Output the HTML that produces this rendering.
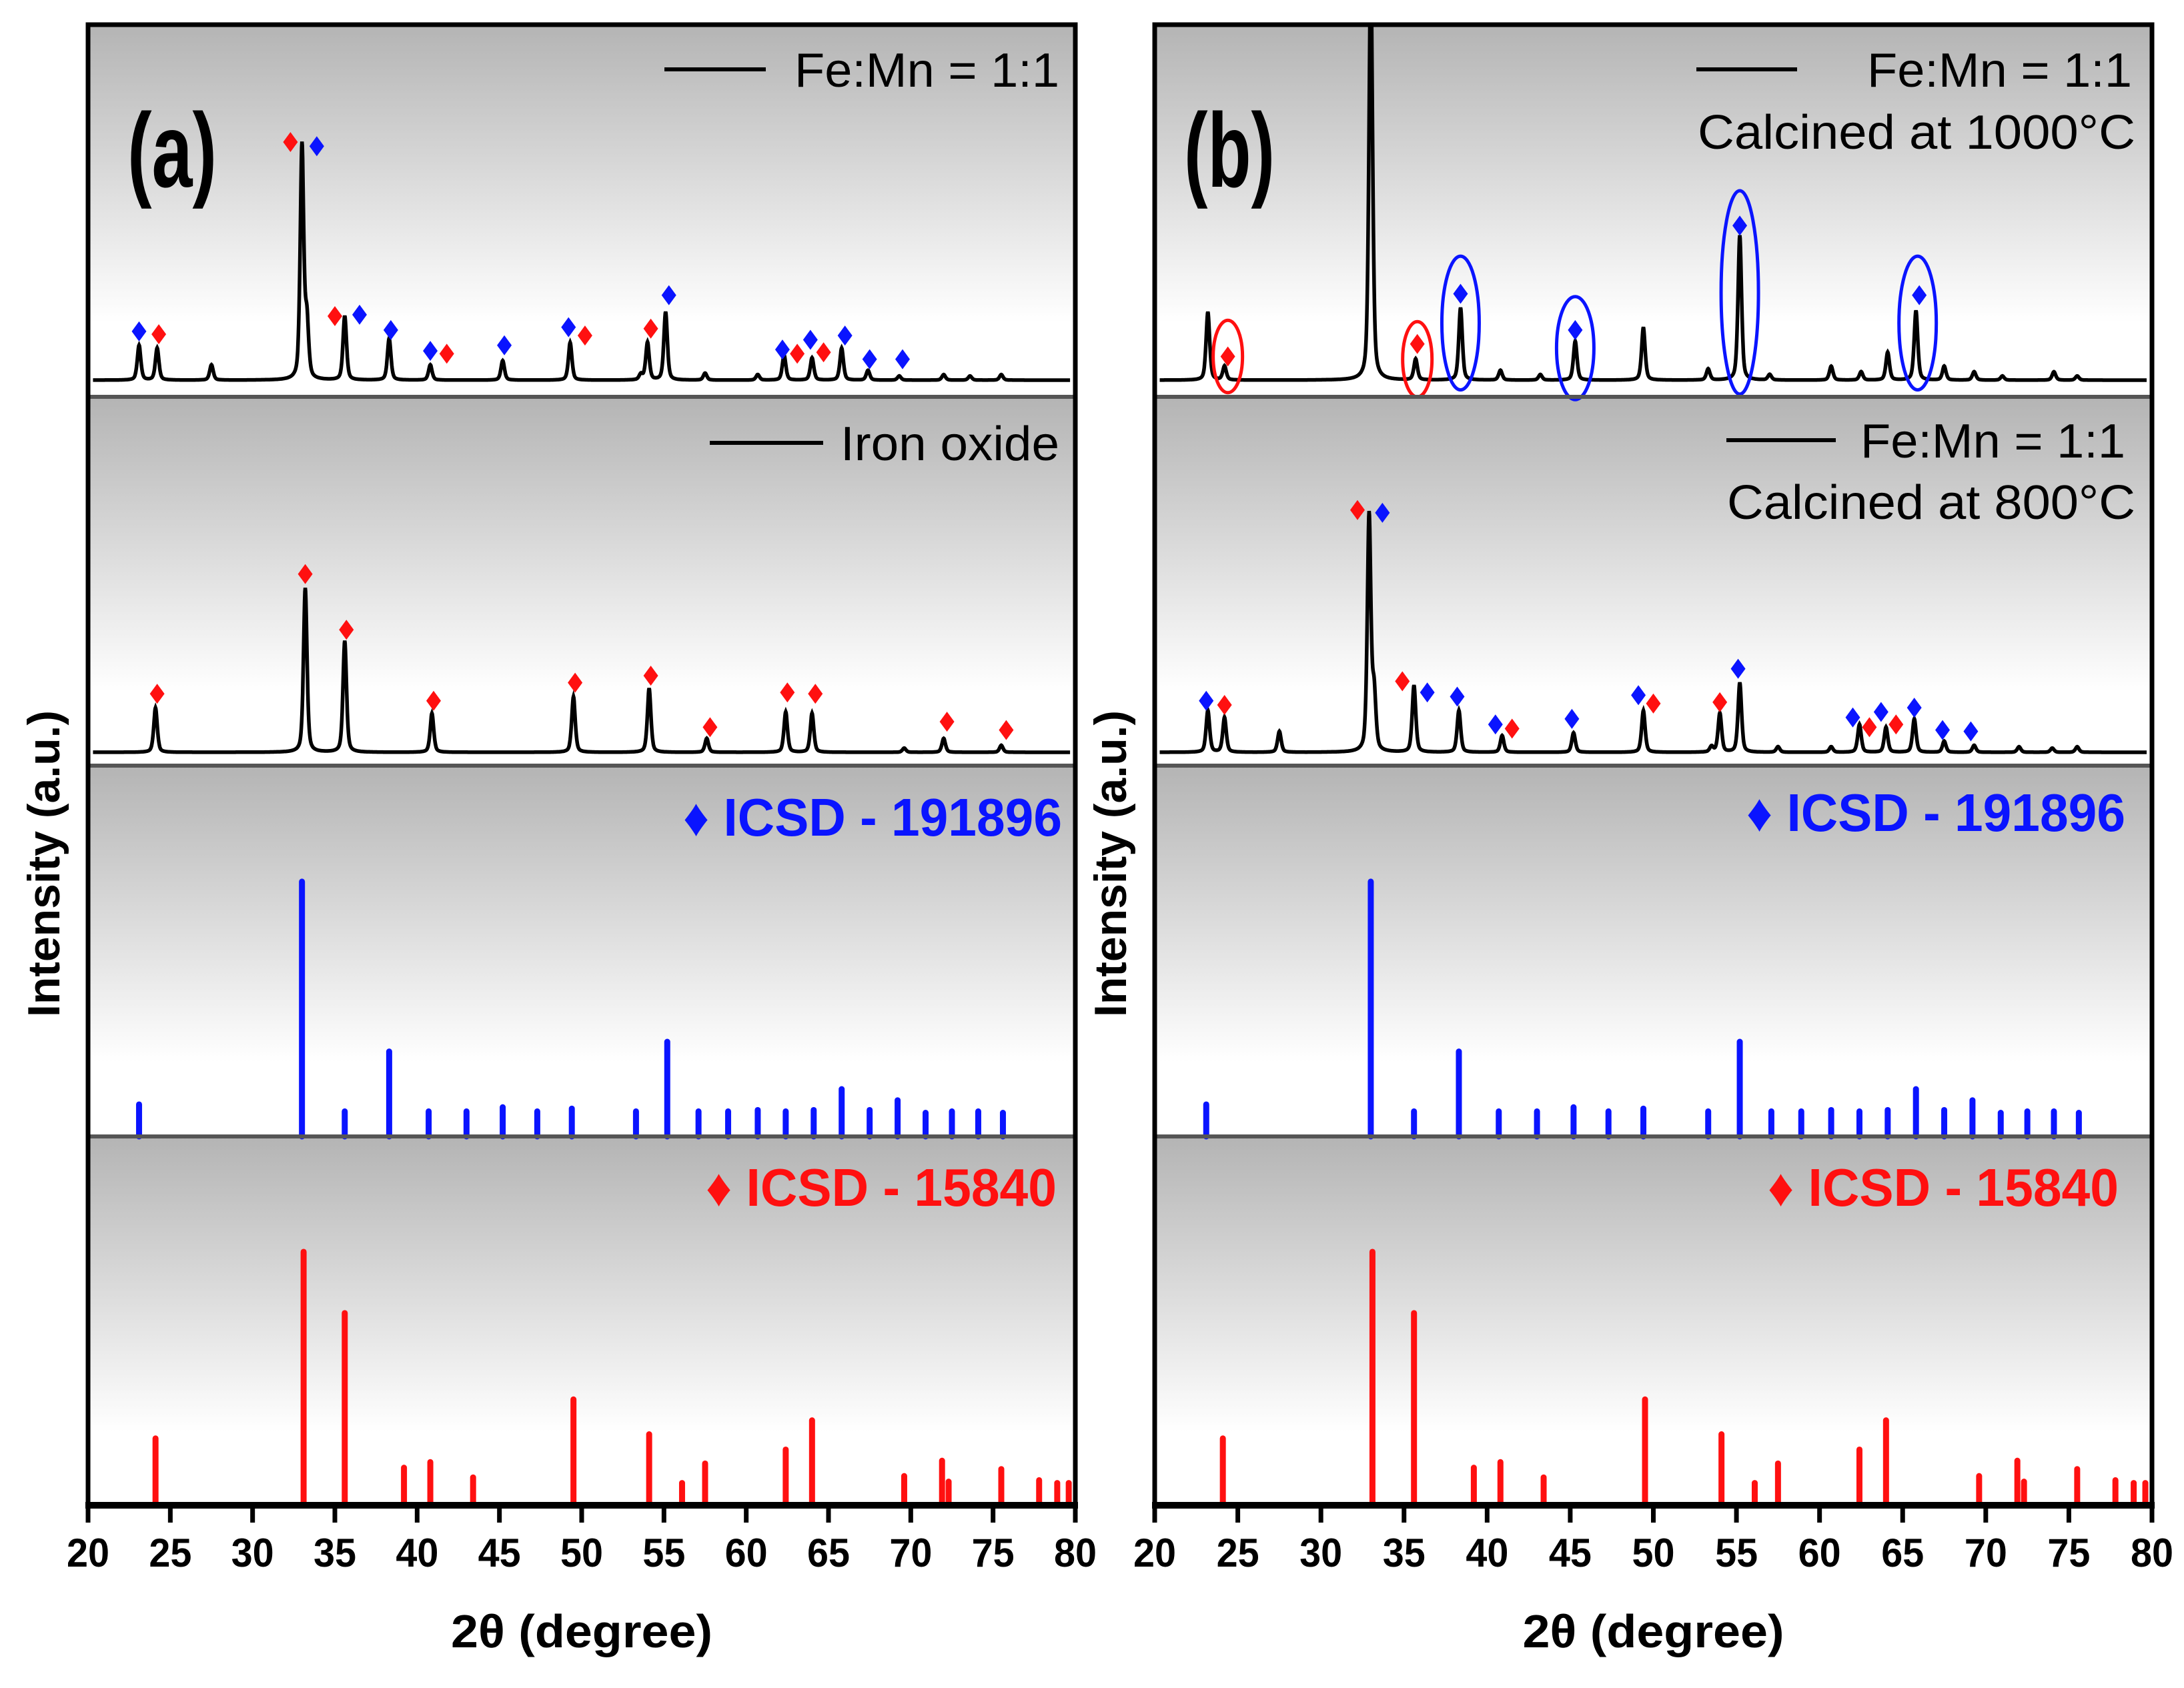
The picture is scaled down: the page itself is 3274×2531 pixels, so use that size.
<!DOCTYPE html>
<html><head><meta charset="utf-8"><style>
html,body{margin:0;padding:0;background:#fff;}
svg{display:block;}
text{font-family:"Liberation Sans Narrow","Liberation Sans",sans-serif;}
</style></head><body>
<svg id="chart" width="3274" height="2531" viewBox="0 0 3274 2531" xmlns="http://www.w3.org/2000/svg">
<defs>
<linearGradient id="bg" x1="0" y1="0" x2="0" y2="1">
<stop offset="0" stop-color="#b4b4b4"/><stop offset="0.8" stop-color="#ffffff"/><stop offset="1" stop-color="#ffffff"/>
</linearGradient>
</defs>
</svg>
<script>
// ---- data (2theta in degrees, intensity in a.u.) ----
const xTicks = [20,25,30,35,40,45,50,55,60,65,70,75,80];
// Panel (a) Fe:Mn = 1:1
const aMixPos = [23.1,24.2,27.5,33.0,33.3,35.6,38.3,40.8,45.2,49.3,53.6,54.0,55.1,57.5,60.7,62.3,64.0,65.8,67.4,69.3,72.0,73.6,75.5];
const aMixInt = [25,23,11,168,40,46,30,11,14,27,4,27,49,5,4,18,16,23,7,3,4,3,4];
const aMixMarkPos = [23.1,24.3,32.3,33.9,35.0,36.5,38.4,40.8,41.8,45.3,49.2,50.2,54.2,55.3,62.2,63.1,63.9,64.7,66.0,67.5,69.5];
const aMixMarkInt = [35,33,171,168,46,47,36,21,19,25,38,32,37,61,22,19,29,20,32,15,15];
const aMixMarkCol = ['b','r','r','b','r','b','b','b','r','b','b','r','r','b','b','r','b','r','b','b','b'];
// Panel (a) Iron oxide
const aFePos = [24.1,33.2,35.6,40.9,49.5,54.1,57.6,62.4,64.0,69.6,72.0,75.5];
const aFeInt = [32,118,80,28,40,46,10,29,28,3,10,5];
const aFeMarkPos = [24.2,33.2,35.7,41.0,49.6,54.2,57.8,62.5,64.2,72.2,75.8];
const aFeMarkInt = [42,128,88,37,50,55,18,43,42,22,16];
// Panel (b) calcined at 1000 C
const b1000Pos = [23.2,24.2,33.0,35.7,38.4,40.8,43.2,45.3,49.4,53.3,55.2,57.0,60.7,62.5,64.1,65.8,67.5,69.3,71.0,74.1,75.5];
const b1000Int = [49,10,300,15,52,7,4,28,38,8,104,4,10,6,20,50,10,6,3,6,3];
const b1000MarkPos = [24.4,35.8,38.4,45.3,55.2,66.0];
const b1000MarkInt = [17,26,62,36,111,61];
const b1000MarkCol = ['r','r','b','b','b','b'];
const b1000CircPos = [24.4,35.8,38.4,45.3,55.2,65.9];
const b1000CircInt = [17,15,41,23,63,41];
const b1000CircHalf = [26,27,48,37,73,48];
const b1000CircCol = ['r','r','b','b','b','b'];
// Panel (b) calcined at 800 C
const b800Pos = [23.2,24.2,27.5,32.9,33.2,35.6,38.3,40.9,45.2,49.4,53.5,54.0,55.2,57.5,60.7,62.4,64.0,65.7,67.5,69.3,72.0,74.0,75.5];
const b800Int = [30,25,15,170,40,48,30,12,14,30,4,28,50,4,4,20,18,24,8,5,4,3,4];
const b800MarkPos = [23.1,24.2,32.2,33.7,34.9,36.4,38.2,40.5,41.5,45.1,49.1,50.0,54.0,55.1,62.0,63.0,63.7,64.6,65.7,67.4,69.1];
const b800MarkInt = [37,34,174,172,51,43,40,20,17,24,41,35,36,60,25,18,29,20,32,16,15];
const b800MarkCol = ['b','r','r','b','r','b','b','b','r','b','b','r','r','b','b','r','b','r','b','b','b'];
// Reference ICSD-191896 (blue)
const refBluePos = [23.1,33.0,35.6,38.3,40.7,43.0,45.2,47.3,49.4,53.3,55.2,57.1,58.9,60.7,62.4,64.1,65.8,67.5,69.2,70.9,72.5,74.1,75.6];
const refBlueInt = [23,183,18,61,18,18,21,18,20,18,68,18,18,19,18,19,34,19,26,17,18,18,17];
// Reference ICSD-15840 (red)
const refRedPos = [24.1,33.1,35.6,39.2,40.8,43.4,49.5,54.1,56.1,57.5,62.4,64.0,69.6,71.9,72.3,75.5,77.8,78.9,79.6];
const refRedInt = [48,182,138,27,31,20,76,51,16,30,40,61,21,32,17,26,18,16,16];

// ---- layout ----
const NS='http://www.w3.org/2000/svg';
const svg=document.getElementById('chart');
const K=2.088;
const rows=[{t:37,b:595,base:570},{t:595,b:1148,base:1128},{t:1148,b:1704,base:1704},{t:1704,b:2257,base:2257}];
const panels=[{L:132,R:1612},{L:1731,R:3226}];
function mk(tag,attrs,parent){const e=document.createElementNS(NS,tag);for(const k in attrs)e.setAttribute(k,attrs[k]);(parent||svg).appendChild(e);return e;}
function xs(p,d){return p.L+(d-20)/60*(p.R-p.L);}
function ys(r,v){return r.base-v*K;}
const COL={b:'#0a14ff',r:'#ff1010'};

panels.forEach((p,pi)=>{
  rows.forEach((r,ri)=>{
    const bg=mk('rect',{x:p.L,y:r.t,width:p.R-p.L,height:r.b-r.t,fill:'url(#bg)'});
    
    
    const c=mk('clipPath',{id:'c'+pi+ri});
    mk('rect',{x:p.L,y:r.t+3,width:p.R-p.L,height:r.b-r.t-3},c);
  });
});

function pattern(pi,ri,pos,ints,name){
  const p=panels[pi],r=rows[ri];
  let d='';
  for(let x=20.3;x<=79.7;x+=0.02){
    let v=0;
    for(let i=0;i<pos.length;i++){const w=0.15;const dx=(x-pos[i])/w;v+=ints[i]/(1+dx*dx*1.6)*0.5+ints[i]*Math.exp(-dx*dx*0.9)*0.5;}
    d+=(d?'L':'M')+xs(p,x).toFixed(1)+','+ys(r,v).toFixed(1);
  }
  const e=mk('path',{d:d,fill:'none',stroke:'#000','stroke-width':5.5,'clip-path':'url(#c'+pi+ri+')'});
  
  
}
function markers(pi,ri,pos,ints,cols,name){
  const p=panels[pi],r=rows[ri];
  pos.forEach((d,i)=>{
    const cx=xs(p,d),cy=ys(r,ints[i]);
    const e=mk('path',{d:`M${cx},${cy-15}L${cx+11},${cy}L${cx},${cy+15}L${cx-11},${cy}Z`,fill:COL[cols[i]]});
    
    
  });
}
function sticks(pi,ri,pos,ints,col,name){
  const p=panels[pi],r=rows[ri];
  pos.forEach((d,i)=>{
    const e=mk('line',{x1:xs(p,d),x2:xs(p,d),y1:r.base,y2:ys(r,ints[i]),stroke:col,'stroke-width':9,'stroke-linecap':'round'});
    
    
  });
}
pattern(0,0,aMixPos,aMixInt,'pattern-fe-mn');
markers(0,0,aMixMarkPos,aMixMarkInt,aMixMarkCol,'phase-marker');
pattern(0,1,aFePos,aFeInt,'pattern-iron-oxide');
markers(0,1,aFeMarkPos,aFeMarkInt,aFeMarkPos.map(()=>'r'),'phase-marker');
pattern(1,0,b1000Pos,b1000Int,'pattern-calcined-1000');
markers(1,0,b1000MarkPos,b1000MarkInt,b1000MarkCol,'phase-marker');
b1000CircPos.forEach((d,i)=>{
  const p=panels[1],r=rows[0];
  const e=mk('ellipse',{cx:xs(p,d),cy:ys(r,b1000CircInt[i]),rx:b1000CircCol[i]==='r'?22:28,ry:b1000CircHalf[i]*K,fill:'none',stroke:COL[b1000CircCol[i]],'stroke-width':5});
  
  
});
pattern(1,1,b800Pos,b800Int,'pattern-calcined-800');
markers(1,1,b800MarkPos,b800MarkInt,b800MarkCol,'phase-marker');
[0,1].forEach(pi=>{
  sticks(pi,2,refBluePos,refBlueInt,'#0a14ff','ref-stick-191896');
  sticks(pi,3,refRedPos,refRedInt,'#ff1010','ref-stick-15840');
});

// frames, dividers, axes
panels.forEach((p,pi)=>{
  [1,2,3].forEach(ri=>{
    const e=mk('line',{x1:p.L,x2:p.R,y1:rows[ri].t,y2:rows[ri].t,stroke:'#555','stroke-width':6});
    
    
  });
  const f=mk('rect',{x:p.L,y:rows[0].t,width:p.R-p.L,height:rows[3].b-rows[0].t,fill:'none',stroke:'#000','stroke-width':7});
  
  
  const ax=mk('line',{x1:p.L-4,x2:p.R+4,y1:2257,y2:2257,stroke:'#000','stroke-width':10});
  
  
  xTicks.forEach(t=>{
    const x=xs(p,t);
    const tk=mk('line',{x1:x,x2:x,y1:2257,y2:2283,stroke:'#000','stroke-width':7});
    
    
    const tl=mk('text',{x:x,y:2349,'text-anchor':'middle','font-size':60,'font-weight':'bold',fill:'#000',textLength:64,lengthAdjust:'spacingAndGlyphs'});
    tl.textContent=t;
    
    
  });
  const tt=mk('text',{x:(p.L+p.R)/2,y:2470,'text-anchor':'middle','font-size':70,'font-weight':'bold',fill:'#000',textLength:392,lengthAdjust:'spacingAndGlyphs'});
  tt.textContent='2θ (degree)';
  
  
  const yt=mk('text',{x:0,y:0,'text-anchor':'middle','font-size':68,'font-weight':'bold',fill:'#000',transform:`translate(${p.L-43},1295) rotate(-90)`,textLength:460,lengthAdjust:'spacingAndGlyphs'});
  yt.textContent='Intensity (a.u.)';
  
  
});

function label(x,y,txt,opts,name){
  const e=mk('text',Object.assign({x:x,y:y,'text-anchor':'end','font-size':72,fill:'#000',lengthAdjust:'spacingAndGlyphs'},opts||{}));
  e.textContent=txt;
  
  
  return e;
}
function legLine(x1,x2,y,name){
  const e=mk('line',{x1:x1,x2:x2,y1:y,y2:y,stroke:'#000','stroke-width':6});
  
  
}
label(258,280,'(a)',{'text-anchor':'middle','font-size':158,'font-weight':'bold',textLength:134},'panel-label-a');
label(1843,280,'(b)',{'text-anchor':'middle','font-size':158,'font-weight':'bold',textLength:136},'panel-label-b');
legLine(996,1148,104,'legend-line');
label(1588,130,'Fe:Mn = 1:1',{textLength:397},'legend-entry');
legLine(1064,1234,664,'legend-line');
label(1588,690,'Iron oxide',{textLength:328},'legend-entry');
label(1592,1253,'♦ ICSD - 191896',{fill:'#0a14ff','font-weight':'bold','font-size':80,textLength:568},'legend-icsd-191896');
label(1584,1808,'♦ ICSD - 15840',{fill:'#ff1010','font-weight':'bold','font-size':80,textLength:526},'legend-icsd-15840');
legLine(2543,2694,104,'legend-line');
label(3196,130,'Fe:Mn = 1:1',{textLength:397},'legend-entry');
label(3201,223,'Calcined at 1000°C',{textLength:656},'legend-calcined-1000');
legLine(2588,2752,660,'legend-line');
label(3186,686,'Fe:Mn = 1:1',{textLength:397},'legend-entry');
label(3201,778,'Calcined at 800°C',{textLength:612},'legend-calcined-800');
label(3186,1246,'♦ ICSD - 191896',{fill:'#0a14ff','font-weight':'bold','font-size':80,textLength:568},'legend-icsd-191896');
label(3176,1808,'♦ ICSD - 15840',{fill:'#ff1010','font-weight':'bold','font-size':80,textLength:526},'legend-icsd-15840');
</script>
</body></html>
